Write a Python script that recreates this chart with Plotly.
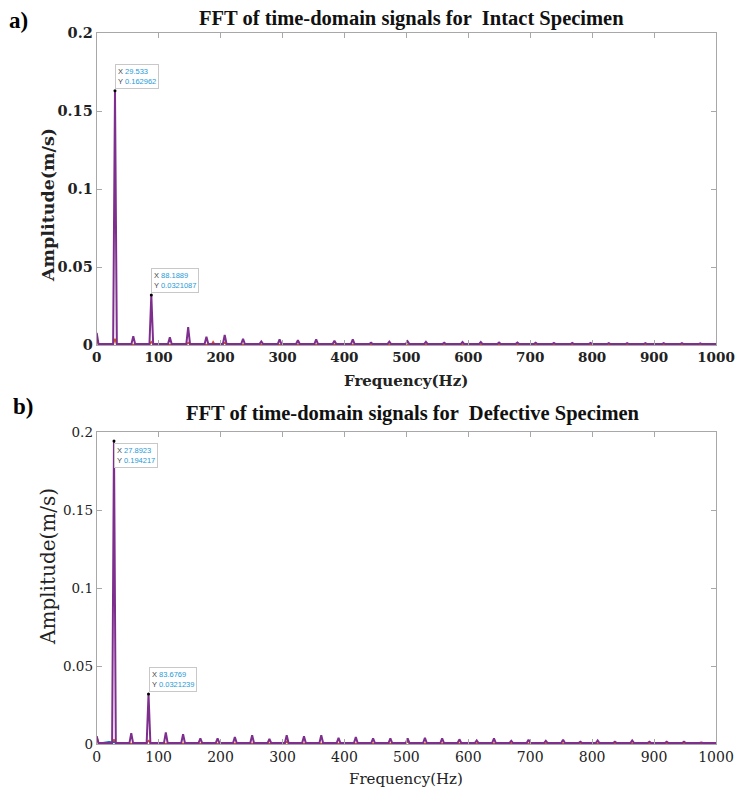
import plotly.graph_objects as go

# ---------------- data ----------------
intact_peak_freq = [0, 29.533, 59.07, 88.1889, 118.1, 147.7, 177.2, 206.7, 236.3, 265.8,
                    295.3, 324.9, 354.4, 383.9, 413.5, 443.0, 472.5, 502.0, 531.6, 561.1,
                    590.7, 620.2, 649.7, 679.3, 708.8, 738.3, 767.9, 797.4, 826.9, 856.5,
                    886.0, 915.5, 945.0, 974.6]
intact_peak_amp = [0.0078, 0.162962, 0.0057, 0.0321087, 0.0049, 0.0114, 0.0053, 0.0065, 0.0040, 0.0023,
                   0.0036, 0.0030, 0.0036, 0.0027, 0.0036, 0.0015, 0.0022, 0.0024, 0.0020, 0.0015,
                   0.0019, 0.0019, 0.0016, 0.0016, 0.0014, 0.0013, 0.0013, 0.0013, 0.0012, 0.0012,
                   0.0012, 0.0012, 0.0012, 0.0011]
intact_base = 0.0006

defect_peak_freq = [0, 27.8923, 55.8, 83.6769, 111.6, 139.5, 167.4, 195.2, 223.1, 251.0,
                    278.9, 306.8, 334.7, 362.6, 390.5, 418.4, 446.3, 474.2, 502.1, 530.0,
                    557.8, 585.7, 613.6, 641.5, 669.4, 697.3, 725.2, 753.1, 781.0, 808.9,
                    836.8, 864.7, 892.5, 920.4, 948.3, 976.2]
defect_peak_amp = [0.0049, 0.194217, 0.0070, 0.0321239, 0.0074, 0.0062, 0.0036, 0.0036, 0.0045, 0.0057,
                   0.0032, 0.0057, 0.0049, 0.0057, 0.0040, 0.0045, 0.0036, 0.0036, 0.0036, 0.0040,
                   0.0036, 0.0030, 0.0023, 0.0036, 0.0020, 0.0028, 0.0020, 0.0028, 0.0015, 0.0023,
                   0.0015, 0.0023, 0.0015, 0.0015, 0.0015, 0.0010]
defect_base = 0.0006

# secondary channels (faint, underneath)
intact_orange_freq = [0, 29.5, 88.2, 147.7, 188.0, 206.7]
intact_orange_amp = [0.0030, 0.0040, 0.0020, 0.0015, 0.0022, 0.0015]
defect_orange_freq = [0, 27.9, 83.7, 307.0, 502.0]
defect_orange_amp = [0.0050, 0.0030, 0.0025, 0.0015, 0.0015]
defect_blue_freq = [10, 20, 30, 40]
defect_blue_amp = [0.0008, 0.0015, 0.0010, 0.0006]

tips_a = [(29.533, 0.162962), (88.1889, 0.0321087)]
tips_b = [(27.8923, 0.194217), (83.6769, 0.0321239)]
tip_labels_a = ["29.533", "0.162962", "88.1889", "0.0321087"]
tip_labels_b = ["27.8923", "0.194217", "83.6769", "0.0321239"]

x_ticks = [0, 100, 200, 300, 400, 500, 600, 700, 800, 900, 1000]
y_ticks = [0, 0.05, 0.1, 0.15, 0.2]
y_tick_text = ["0", "0.05", "0.1", "0.15", "0.2"]

PEAK_HALF_WIDTH = 3.0  # Hz, visual width of each spectral line


def spectrum_line(freqs, amps, base, xmax=1000.0):
    xs, ys = [], []
    for f, a in zip(freqs, amps):
        if f <= PEAK_HALF_WIDTH:
            xs += [f, f + PEAK_HALF_WIDTH]
            ys += [a, base]
        else:
            xs += [f - PEAK_HALF_WIDTH, f, f + PEAK_HALF_WIDTH]
            ys += [base, a, base]
    xs.append(xmax)
    ys.append(base)
    return xs, ys


PURPLE = "#7E2F8E"
ORANGE = "#D95319"
BLUE = "#0072BD"

fig = go.Figure()

# panel a
xo, yo = spectrum_line(intact_orange_freq, intact_orange_amp, 0.0003)
fig.add_trace(go.Scatter(x=xo, y=yo, mode="lines", line=dict(color=ORANGE, width=1.5),
                         xaxis="x", yaxis="y", hoverinfo="skip"))
xa, ya = spectrum_line(intact_peak_freq, intact_peak_amp, intact_base)
fig.add_trace(go.Scatter(x=xa, y=ya, mode="lines", line=dict(color=PURPLE, width=2),
                         xaxis="x", yaxis="y"))
fig.add_trace(go.Scatter(x=[t[0] for t in tips_a], y=[t[1] for t in tips_a], mode="markers",
                         marker=dict(color="black", size=3), xaxis="x", yaxis="y"))

# panel b
xo, yo = spectrum_line(defect_orange_freq, defect_orange_amp, 0.0003)
fig.add_trace(go.Scatter(x=xo, y=yo, mode="lines", line=dict(color=ORANGE, width=1.5),
                         xaxis="x2", yaxis="y2", hoverinfo="skip"))
fig.add_trace(go.Scatter(x=defect_blue_freq, y=defect_blue_amp, mode="lines",
                         line=dict(color=BLUE, width=1.5), xaxis="x2", yaxis="y2"))
xb, yb = spectrum_line(defect_peak_freq, defect_peak_amp, defect_base)
fig.add_trace(go.Scatter(x=xb, y=yb, mode="lines", line=dict(color=PURPLE, width=2),
                         xaxis="x2", yaxis="y2"))
fig.add_trace(go.Scatter(x=[t[0] for t in tips_b], y=[t[1] for t in tips_b], mode="markers",
                         marker=dict(color="black", size=3), xaxis="x2", yaxis="y2"))

FRAME = "#a8a8a8"

W, H = 736, 794


def px(x, y):
    return x / W, 1 - y / H


XD = [px(96.7, 0)[0], px(716, 0)[0]]
YD_A = [px(0, 345)[1], px(0, 33)[1]]
YD_B = [px(0, 744)[1], px(0, 432)[1]]


def xaxis_style(anchor, bold):
    return dict(domain=XD, range=[0, 1000], tickvals=x_ticks, anchor=anchor, automargin=False,
                showline=True, linecolor=FRAME, linewidth=1, mirror="ticks",
                ticks="inside", ticklen=5, tickcolor=FRAME, showgrid=False, zeroline=False,
                tickfont=dict(family="DejaVu Serif", size=13.5 if bold else 14, color="#222",
                              weight="bold" if bold else "normal"))


def yaxis_style(anchor, dom, bold):
    return dict(domain=dom, range=[0, 0.2], tickvals=y_ticks, ticktext=y_tick_text,
                anchor=anchor, automargin=False,
                showline=True, linecolor=FRAME, linewidth=1, mirror="ticks",
                ticks="inside", ticklen=5, tickcolor=FRAME, showgrid=False, zeroline=False,
                tickfont=dict(family="DejaVu Serif", size=14.5 if bold else 13.5, color="#222",
                              weight="bold" if bold else "normal"))


annotations = []
for lab, (lx, ly) in (("a)", (7, 20)), ("b)", (11, 406))):
    x0, y0 = px(lx, ly)
    annotations.append(dict(text=lab, x=x0, y=y0, xref="paper", yref="paper",
                            xanchor="left", yanchor="middle", showarrow=False,
                            font=dict(family="Liberation Serif", size=23, color="black",
                                      weight="bold")))

# titles
for txt, (tx, ty) in (("FFT of time-domain signals for  Intact Specimen", (411, 18)),
                      ("FFT of time-domain signals for  Defective Specimen", (413, 413))):
    x0, y0 = px(tx, ty)
    annotations.append(dict(text=txt, x=x0, y=y0, xref="paper", yref="paper", showarrow=False,
                            xanchor="center", yanchor="middle",
                            font=dict(family="Liberation Serif", size=20.5, color="#111",
                                      weight="bold")))
# axis titles
for (tx, ty), bold in (((406, 381), True), ((406, 779), False)):
    x0, y0 = px(tx, ty)
    annotations.append(dict(text="Frequency(Hz)", x=x0, y=y0, xref="paper", yref="paper",
                            showarrow=False, xanchor="center", yanchor="middle",
                            font=dict(family="DejaVu Serif", size=15, color="#222",
                                      weight="bold" if bold else "normal")))
for (tx, ty), bold in (((48, 205), True), ((48, 567), False)):
    x0, y0 = px(tx, ty)
    annotations.append(dict(text="Amplitude(m/s)", x=x0, y=y0, xref="paper", yref="paper",
                            showarrow=False, xanchor="center", yanchor="middle", textangle=-90,
                            font=dict(family="DejaVu Serif", size=17.5 if bold else 20, color="#222",
                                      weight="bold" if bold else "normal")))


def tip(xref, yref, pt, xs, ys, above):
    return dict(x=pt[0], y=pt[1], xref=xref, yref=yref, showarrow=False,
                text=f"X <span style='color:#1f9ad6'>{xs}</span><br>Y <span style='color:#1f9ad6'>{ys}</span>",
                align="left", xanchor="left", yanchor="bottom" if above else "top",
                xshift=0, yshift=2 if above else -2,
                bgcolor="white", bordercolor="#c8c8c8", borderwidth=1, borderpad=2,
                font=dict(family="Arial", size=7.5, color="#444"))


annotations.append(tip("x", "y", tips_a[0], tip_labels_a[0], tip_labels_a[1], True))
annotations.append(tip("x", "y", tips_a[1], tip_labels_a[2], tip_labels_a[3], True))
annotations.append(tip("x2", "y2", tips_b[0], tip_labels_b[0], tip_labels_b[1], False))
annotations.append(tip("x2", "y2", tips_b[1], tip_labels_b[2], tip_labels_b[3], True))

fig.update_layout(
    width=W, height=H, margin=dict(l=0, r=0, t=0, b=0, autoexpand=False),
    paper_bgcolor="white", plot_bgcolor="white", showlegend=False,
    xaxis=xaxis_style("y", True),
    yaxis=yaxis_style("x", YD_A, True),
    xaxis2=xaxis_style("y2", False),
    yaxis2=yaxis_style("x2", YD_B, False),
    annotations=annotations,
)

fig.write_html("out.html", config={"displayModeBar": False},
               post_script="document.body.style.margin='0px';")
